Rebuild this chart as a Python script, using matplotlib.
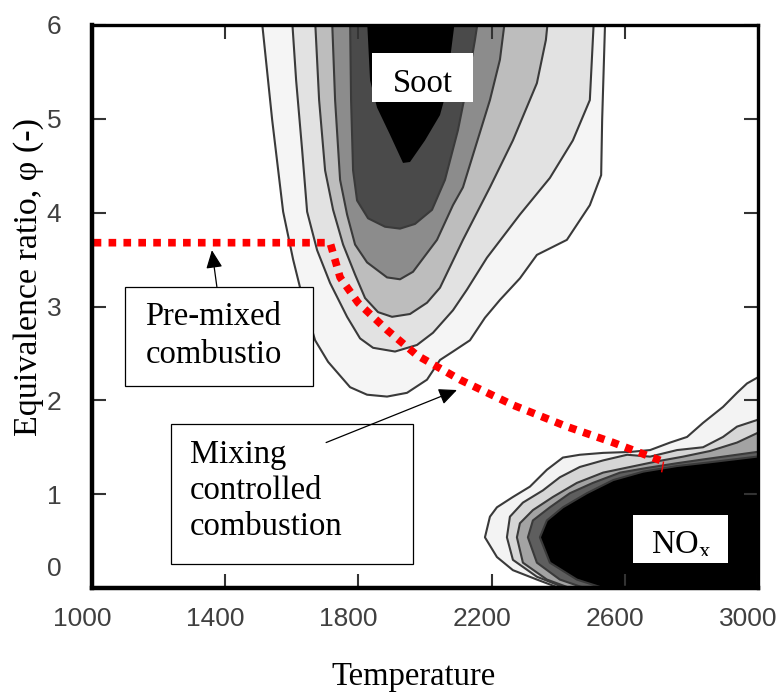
import matplotlib
matplotlib.use('Agg')
import matplotlib.pyplot as plt
from matplotlib.patches import Rectangle
from matplotlib.transforms import ScaledTranslation


# soot contours, outer -> inner (temperature, equivalence ratio)
soot_t1 = [1510, 1541, 1574, 1604, 1634, 1670, 1709, 1775, 1826, 1886, 1946, 2006,
           2045, 2084, 2135, 2180, 2225, 2285, 2336, 2426, 2495, 2529, 2532, 2541]
soot_p1 = [6.05, 4.99, 4.01, 3.50, 3.07, 2.64, 2.41, 2.14, 2.06, 2.04, 2.08, 2.22,
           2.43, 2.52, 2.64, 2.88, 3.07, 3.30, 3.55, 3.71, 4.08, 4.40, 4.99, 6.05]
soot_t2 = [1601, 1613, 1631, 1646, 1676, 1715, 1766, 1805, 1844, 1910, 1976, 2024,
           2084, 2126, 2186, 2285, 2375, 2444, 2495, 2507]
soot_p2 = [6.05, 5.41, 4.67, 4.01, 3.60, 3.25, 2.89, 2.66, 2.56, 2.52, 2.59, 2.72,
           2.96, 3.18, 3.52, 3.98, 4.37, 4.77, 5.20, 6.05]
soot_t3 = [1670, 1682, 1700, 1724, 1754, 1790, 1820, 1859, 1901, 1955, 2006, 2045,
           2114, 2195, 2264, 2336, 2363, 2369]
soot_p3 = [6.05, 5.20, 4.45, 4.03, 3.66, 3.34, 3.09, 2.94, 2.89, 2.92, 3.04, 3.20,
           3.71, 4.27, 4.77, 5.38, 5.84, 6.05]
soot_t4 = [1721, 1730, 1745, 1766, 1790, 1826, 1886, 1925, 1964, 2036, 2084, 2114,
           2195, 2225, 2240]
soot_p4 = [6.05, 5.20, 4.35, 3.98, 3.66, 3.47, 3.31, 3.29, 3.37, 3.71, 4.08, 4.27,
           5.20, 5.63, 6.05]
soot_t5 = [1775, 1778, 1784, 1796, 1829, 1880, 1925, 1970, 2021, 2060, 2099, 2129,
           2150, 2159]
soot_p5 = [6.05, 5.20, 4.45, 4.13, 3.94, 3.85, 3.83, 3.88, 4.03, 4.35, 4.88, 5.41,
           5.84, 6.05]
soot_t6 = [1826, 1835, 1856, 1895, 1934, 1955, 2000, 2045, 2066, 2075, 2090]
soot_p6 = [6.05, 5.41, 5.12, 4.83, 4.53, 4.54, 4.77, 5.04, 5.31, 5.63, 6.05]
soot_colors = ['#f5f5f5', '#e2e2e2', '#bdbdbd', '#8c8c8c', '#4a4a4a', '#000000']

# NOx contours, outer -> inner
nox_t1 = [2420, 2396, 2336, 2264, 2216, 2180, 2195, 2216, 2264, 2315, 2366, 2414,
          2465, 2535, 2616, 2676, 2736, 2787, 2835, 2895, 2937, 2967, 2997, 3050]
nox_p1 = [-0.10, 0.01, 0.09, 0.19, 0.33, 0.54, 0.76, 0.86, 0.97, 1.08, 1.26, 1.39,
          1.42, 1.44, 1.45, 1.47, 1.55, 1.61, 1.76, 1.93, 2.08, 2.18, 2.24, 2.30]
nox_t2 = [2414, 2336, 2264, 2246, 2255, 2294, 2354, 2405, 2465, 2535, 2607, 2676,
          2757, 2835, 2895, 2937, 2997]
nox_p2 = [0.01, 0.12, 0.30, 0.54, 0.76, 0.91, 1.04, 1.18, 1.29, 1.36, 1.42, 1.40,
          1.47, 1.50, 1.61, 1.72, 1.79]
nox_t3 = [2435, 2366, 2294, 2276, 2285, 2324, 2384, 2456, 2535, 2616, 2697, 2775,
          2856, 2937, 2997]
nox_p3 = [0.00, 0.09, 0.27, 0.54, 0.69, 0.83, 0.97, 1.12, 1.23, 1.29, 1.35, 1.40,
          1.46, 1.55, 1.65]
nox_t4 = [2495, 2405, 2336, 2309, 2324, 2375, 2435, 2504, 2586, 2667, 2757, 2835,
          2916, 2997]
nox_p4 = [-0.02, 0.09, 0.27, 0.54, 0.72, 0.86, 1.01, 1.12, 1.23, 1.28, 1.33, 1.37,
          1.41, 1.45]
nox_t5 = [2535, 2456, 2375, 2345, 2366, 2414, 2486, 2565, 2655, 2757, 2856, 2997]
nox_p5 = [0.00, 0.09, 0.27, 0.54, 0.72, 0.86, 1.01, 1.15, 1.24, 1.30, 1.34, 1.40]
nox_colors = ['#f3f3f3', '#d6d6d6', '#a3a3a3', '#5e5e5e', '#000000']

# combustion path (red dotted)
path_t = [1005, 1715, 1745, 1799, 1886, 1976, 2105, 2264, 2426, 2565, 2706]
path_p = [3.68, 3.68, 3.31, 3.04, 2.75, 2.48, 2.22, 1.95, 1.72, 1.55, 1.36]

xticks = [1000, 1400, 1800, 2200, 2600, 3000]
yticks = [0, 1, 2, 3, 4, 5, 6]

SERIF = 'Liberation Serif'
LINE = '#3a3a3a'
FS = 23.5

fig = plt.figure(figsize=(7.77, 6.93), dpi=100)
ax = fig.add_axes([92/777, 1 - 588/693, 666/777, 563/693])

soot = [(soot_t1, soot_p1), (soot_t2, soot_p2), (soot_t3, soot_p3),
        (soot_t4, soot_p4), (soot_t5, soot_p5), (soot_t6, soot_p6)]
for (t, p), c in zip(soot, soot_colors):
    ax.fill(t, p, color=c, lw=0)
for t, p in soot[:-1]:
    ax.plot(t, p, color=LINE, lw=1.5)

nox = [(nox_t1, nox_p1), (nox_t2, nox_p2), (nox_t3, nox_p3),
       (nox_t4, nox_p4), (nox_t5, nox_p5)]
for (t, p), c in zip(nox, nox_colors):
    # close the region through the bottom-right corner outside the axes
    ax.fill([t[0]] + t + [3200, 3200], [-1] + p + [p[-1], -1], color=c, lw=0)
for t, p in nox:
    ax.plot(t, p, color=LINE, lw=1.5)

ax.plot(path_t, path_p, color='#ff0000', lw=5.5, linestyle=(0, (1, 0.95)))
ax.plot([2716, 2711], [1.34, 1.24], color='#ff0000', lw=1)

# labels in boxes
ax.add_patch(Rectangle((1841, 5.18), 303, 0.52, fc='white', ec='none', zorder=4))
ax.text(1994, 5.29, 'Soot', family=SERIF, fontsize=FS, ha='center',
        va='baseline', zorder=5)

ax.add_patch(Rectangle((2625, 0.27), 285, 0.51, fc='white', ec='none', zorder=4))
ax.text(2680, 0.37, r'NO$_\mathregular{x}$', family=SERIF, fontsize=FS,
        va='baseline', zorder=5)
# the subscript is cut off by the text frame in the original
ax.add_patch(Rectangle((2625, 0.27), 285, 0.068, fc='white', ec='none', zorder=6))

ax.add_patch(Rectangle((1099, 2.15), 565, 1.06, fc='white', ec='black',
                       lw=0.9, zorder=4))
ax.text(1160, 2.80, 'Pre-mixed', family=SERIF, fontsize=FS, va='baseline', zorder=5)
ax.text(1160, 2.40, 'combustio', family=SERIF, fontsize=FS, va='baseline', zorder=5)

ax.add_patch(Rectangle((1237, 0.26), 727, 1.49, fc='white', ec='black',
                       lw=0.9, zorder=4))
for s, yb in zip(['Mixing', 'controlled', 'combustion'], [1.33, 0.95, 0.56]):
    ax.text(1295, yb, s, family=SERIF, fontsize=FS, va='baseline', zorder=5)

arrow = dict(arrowstyle='-|>,head_length=0.55,head_width=0.25', color='black',
             lw=0.9, mutation_scale=20, shrinkA=0, shrinkB=0)
ax.annotate('', xy=(1360, 3.60), xytext=(1375, 3.21), arrowprops=arrow, zorder=6)
ax.annotate('', xy=(2096, 2.11), xytext=(1703, 1.55), arrowprops=arrow, zorder=6)

ax.set_xlim(1000, 3000)
ax.set_ylim(0, 6)
ax.set_xticks(xticks)
ax.set_yticks(yticks)
ax.tick_params(direction='in', length=10, width=1.5, color='#333333',
               top=True, right=True, labelsize=19, labelcolor='#404040', pad=14)
ax.tick_params(axis='y', pad=22)
for lab in ax.get_xticklabels() + ax.get_yticklabels():
    lab.set_family('Liberation Sans')
for side, w in [('left', 3.2), ('bottom', 3.2), ('top', 2.4), ('right', 2.4)]:
    ax.spines[side].set_linewidth(w)
    ax.spines[side].set_zorder(7)

shift = ScaledTranslation(-0.10, 0, fig.dpi_scale_trans)
for lab in ax.get_xticklabels():
    lab.set_transform(lab.get_transform() + shift)
lab0 = ax.get_yticklabels()[0]
lab0.set_transform(lab0.get_transform() + ScaledTranslation(0, 0.21, fig.dpi_scale_trans))

fig.text(414/777, 1 - 685/693, 'Temperature', family=SERIF, fontsize=FS,
         ha='center', va='baseline')
fig.text(29/777, 1 - 277/693, u'Equivalence ratio, \u03c6 (-)', family=SERIF,
         fontsize=24.5, rotation=90, ha='center', va='center')

fig.savefig('out.png', dpi=100)
